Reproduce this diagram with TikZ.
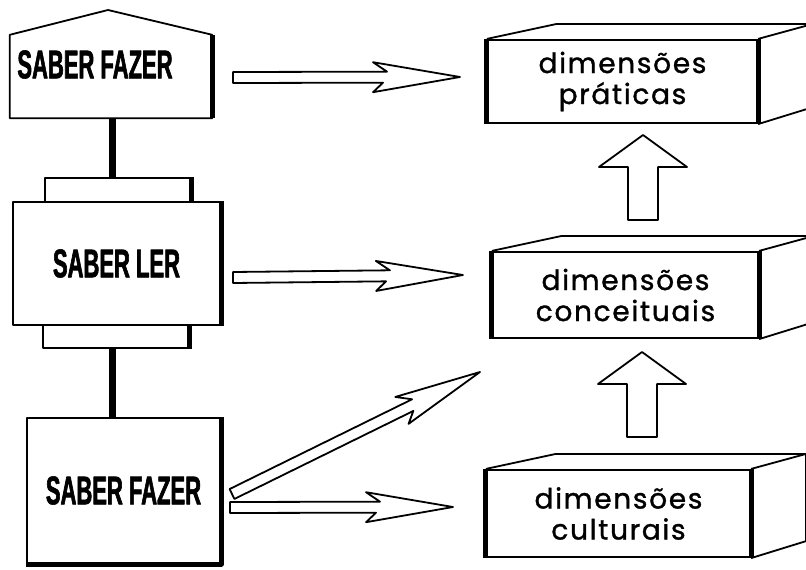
\documentclass[tikz,border=0pt]{standalone}
\usepackage{fontspec}
\usetikzlibrary{calc}
\newfontfamily\sabfont[FakeStretch=0.55,FakeBold=1.5]{Liberation Sans}
\newfontfamily\dimfont[LetterSpace=6,FakeBold=1.2]{Poppins}

\begin{document}
\begin{tikzpicture}[x=1pt,y=-1pt,line join=round,
  box/.style={draw, line width=2pt, fill=white, inner sep=0pt},
  frontface/.style={draw, line width=2.2pt, inner sep=0pt, align=center,
    font=\dimfont\fontsize{28}{31}\selectfont},
  sabtext/.style={font=\sabfont\bfseries\fontsize{40}{40}\selectfont},
  outline/.style={line width=1.8pt},
  heavy/.style={line width=5pt},
  link/.style={line width=7pt},
  pics/slimarrow/.style={code={
    \draw[outline, fill=white] (0pt,5.5pt) -- ({#1*1pt-73pt},5.5pt) -- ({#1*1pt-87pt},15pt)
      -- ({#1*1pt},0pt) -- ({#1*1pt-87pt},-15pt) -- ({#1*1pt-77pt},-5.5pt) -- (0pt,-5.5pt) -- cycle;}},
  pics/blockarrow/.style={code={
    \draw[outline, fill=white] (0pt,15pt) -- ({#1*1pt-32pt},15pt) -- ({#1*1pt-32pt},44pt)
      -- ({#1*1pt},0pt) -- ({#1*1pt-32pt},-44pt) -- ({#1*1pt-32pt},-15pt) -- (0pt,-15pt) -- cycle;}}]
  \useasboundingbox (0,0) rectangle (806,570);

  % left column
  \node[inner sep=0pt, minimum width=202pt, minimum height=83pt,
    label={[sabtext, shift={(-16pt,12pt)}]center:SABER FAZER}] (fz1) at (111,76.5) {};
  \coordinate (peak) at (108,10);
  \draw[outline] (fz1.south west) -- (fz1.north west) -- (peak) -- (fz1.north east)
    -- (fz1.south east) -- cycle;
  \draw[heavy] (fz1.north east) -- (fz1.south east);

  \node[box, minimum width=145pt, minimum height=24pt] (lert) at (117.5,190) {};
  \node[box, minimum width=145pt, minimum height=23pt] (lerb) at (115.5,336.5) {};
  \node[box, sabtext, minimum width=207pt, minimum height=123pt] (ler) at (116.5,263.5) {SABER LER};
  \draw[heavy] (lert.north east) -- (lert.south east);
  \draw[heavy] (lerb.north east) -- (lerb.south east);
  \draw[heavy] (ler.north east) -- (ler.south east);

  \node[box, sabtext, minimum width=193pt, minimum height=145pt] (fz2) at (123.5,490.5) {SABER FAZER};
  \draw[heavy] (fz2.north east) -- (fz2.south east) -- (fz2.south west);

  \coordinate (spine) at (112,0);
  \draw[link] (spine |- fz1.south) -- (spine |- lert.north);
  \draw[link] (spine |- lerb.south) -- (spine |- fz2.north);

  % right column
  \node[frontface, minimum width=269pt, minimum height=83pt] (prat) at (622.5,81.5) {dimensões\\práticas};
  \node[frontface, minimum width=265pt, minimum height=86pt] (conc) at (625.5,295) {dimensões\\conceituais};
  \node[frontface, minimum width=263pt, minimum height=87pt] (cult) at (618.5,513.5) {dimensões\\culturais};
  \foreach \bx in {prat,conc,cult} {
    \draw[outline] (\bx.north west) -- ++(70,-15) -- ($(\bx.north east)+(55,-15)$)
      -- ($(\bx.south east)+(55,-17)$) -- (\bx.south east);
    \draw[outline] (\bx.north east) -- ++(55,-15);
    \draw[heavy] (\bx.north west) -- (\bx.south west);
    \draw[heavy] (\bx.north east) -- (\bx.south east);
  }

  % arrows
  \coordinate (a1s) at (233,77.5);  \coordinate (a1t) at (460,77);
  \coordinate (a2s) at (233,277.5); \coordinate (a2t) at (463,275);
  \coordinate (a3s) at (230,507.5); \coordinate (a3t) at (453,507);
  \coordinate (a4s) at (232,494);   \coordinate (a4t) at (480,372);
  \foreach \srcpt/\tippt in {a1s/a1t,a2s/a2t,a3s/a3t,a4s/a4t}
    \path let \p1=($(\tippt)-(\srcpt)$), \n1={atan2(\y1,\x1)}, \n2={veclen(\x1,\y1)}
      in (\srcpt) pic[rotate=\n1] {slimarrow=\n2};

  \coordinate (u1s) at (643,220); \coordinate (u1t) at (643,135);
  \coordinate (u2s) at (642,437); \coordinate (u2t) at (642,352);
  \foreach \srcpt/\tippt in {u1s/u1t,u2s/u2t}
    \path let \p1=($(\tippt)-(\srcpt)$), \n1={atan2(\y1,\x1)}, \n2={veclen(\x1,\y1)}
      in (\srcpt) pic[rotate=\n1] {blockarrow=\n2};
\end{tikzpicture}
\end{document}
